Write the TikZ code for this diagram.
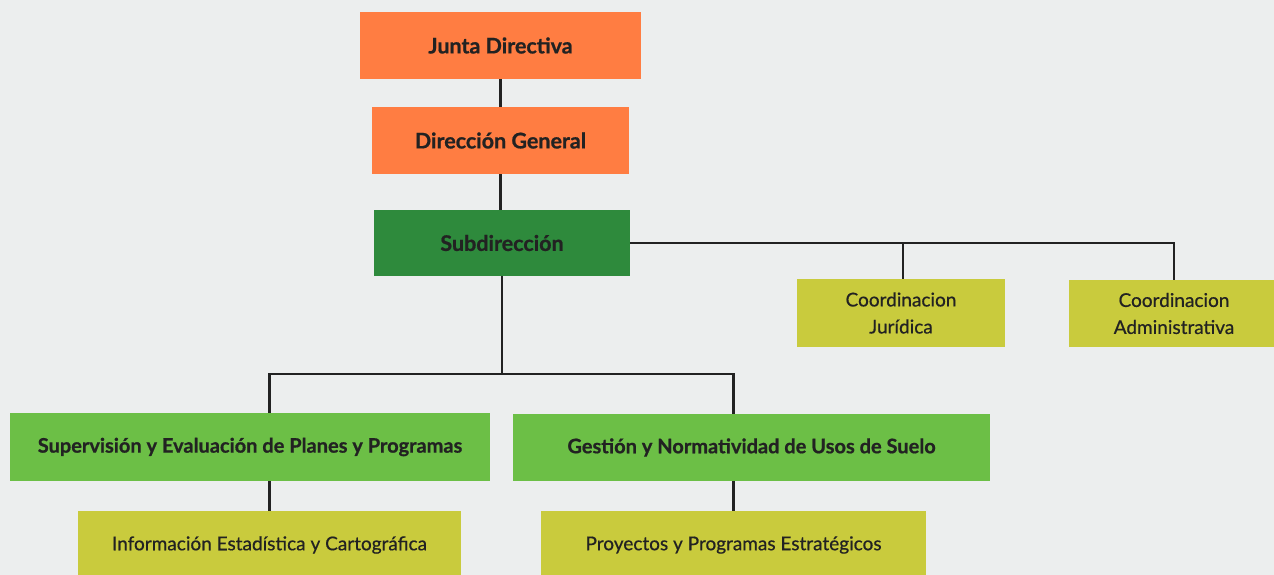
\documentclass[tikz,border=0pt]{standalone}
\usepackage{fontspec}
\setmainfont{Lato}[BoldFeatures={FakeBold=0.8}]
\newfontfamily\latosemi[FakeBold=0.6]{Lato}
\usetikzlibrary{positioning,calc}

\definecolor{paper}{HTML}{ECEEEE}
\definecolor{orangebox}{HTML}{FF7D42}
\definecolor{darkgreen}{HTML}{2E8A3C}
\definecolor{midgreen}{HTML}{6CBF46}
\definecolor{olivebox}{HTML}{C9CB3D}
\definecolor{ink}{HTML}{222222}

\tikzset{
  unitbox/.style={draw=none,text=ink,align=center,inner sep=0pt},
  headbox/.style={unitbox,font=\fontsize{21.5}{24}\selectfont\bfseries},
  areabox/.style={unitbox,font=\fontsize{20}{24}\selectfont\bfseries},
  subbox/.style={unitbox,font=\fontsize{19}{27}\selectfont\latosemi},
  link/.style={ink,line width=2.8pt}
}

\begin{document}
\begin{tikzpicture}[x=1pt,y=-1pt]
% page and paper tone
\fill[paper] (0,0) rectangle (1274,575);
\useasboundingbox (0,0) rectangle (1274,575);
% top chain
\node[headbox,fill=orangebox,minimum width=281pt,minimum height=67pt] (jd) at (500.5,45.5) {Junta Directiva};
\node[headbox,fill=orangebox,minimum width=257pt,minimum height=67pt] (dg) at (500.5,140.5) {Dirección General};
\node[headbox,fill=darkgreen,minimum width=256pt,minimum height=66pt] (sub) at (502,243) {Subdirección};
% coordinations on the right
\node[subbox,fill=olivebox,minimum width=208pt,minimum height=68pt] (cj) at (901,313) {Coordinacion\\Jurídica};
\node[subbox,fill=olivebox,minimum width=210pt,minimum height=67pt] (ca) at (1174,313.5) {Coordinacion\\Administrativa};
% areas
\node[areabox,fill=midgreen,minimum width=480pt,minimum height=68pt] (sup) at (250,447) {Supervisión y Evaluación de Planes y Programas};
\node[areabox,fill=midgreen,minimum width=477pt,minimum height=67pt] (ges) at (751.5,447.5) {Gestión y Normatividad de Usos de Suelo};
\node[subbox,fill=olivebox,minimum width=383pt,minimum height=68pt] (info) at (269.5,545) {Información Estadística y Cartográfica};
\node[subbox,fill=olivebox,minimum width=385pt,minimum height=68pt] (proy) at (733.5,545) {Proyectos y Programas Estratégicos};
% connectors
\coordinate (bus) at (502,374);
\draw[link] (jd.south) -- (dg.north);
\draw[link] (dg.south) -- (dg.south |- sub.north);
\draw[link] (sub.east) -- (ca.north |- sub.east) -- (ca.north);
\draw[link] ([xshift=2pt]cj.north |- sub.east) -- ([xshift=2pt]cj.north);
\draw[link] (sub.south) -- (bus);
\draw[link] (info.north |- sup.north) -- (info.north |- bus) -- (proy.north |- bus) -- (proy.north |- ges.north);
\draw[link] (info.north |- sup.south) -- (info.north);
\draw[link] (proy.north |- ges.south) -- (proy.north);
\end{tikzpicture}
\end{document}
